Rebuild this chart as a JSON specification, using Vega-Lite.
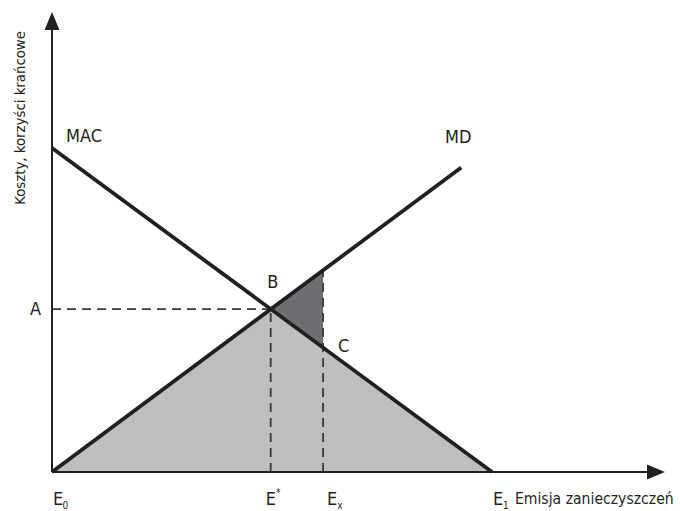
{
  "$schema": "https://vega.github.io/schema/vega-lite/v6.json",
  "autosize": "none",
  "width": 613,
  "height": 460,
  "padding": {"left": 52, "top": 12, "right": 15, "bottom": 39},
  "background": "white",
  "config": {"view": {"stroke": null}, "text": {"font": "DejaVu Sans Condensed, Liberation Sans Narrow, sans-serif", "color": "#231f20"}},
  "datasets": {
    "curves": [
      {"series": "MAC", "x": 0, "y": 100},
      {"series": "MAC", "x": 100, "y": 0},
      {"series": "MD", "x": 0, "y": 0},
      {"series": "MD", "x": 93, "y": 94}
    ],
    "lightArea": [{"x": 0, "y": 0}, {"x": 49.7, "y": 50.3}, {"x": 100, "y": 0}],
    "darkArea": [{"x": 49.7, "y": 50.3, "y2": 50.3}, {"x": 61.6, "y": 62.3, "y2": 38.4}],
    "guides": [
      {"x": 0, "y": 50.3, "x2": 49.7, "y2": 50.3},
      {"x": 49.7, "y": 0, "x2": 49.7, "y2": 50.3},
      {"x": 61.6, "y": 0, "x2": 61.6, "y2": 62.3}
    ],
    "axes": [
      {"x": 0, "y": 0, "x2": 0, "y2": 137},
      {"x": 0, "y": 0, "x2": 135.5, "y2": 0}
    ],
    "arrowUp": [{"x": 0, "y": 142}],
    "arrowRight": [{"x": 139.3, "y": 0}],
    "labels": [
      {"text": "A", "x": -5.0, "y": 48.5},
      {"text": "MAC", "x": 3.2, "y": 101.9},
      {"text": "MD", "x": 89.3, "y": 101.5},
      {"text": "B", "x": 48.9, "y": 56.8},
      {"text": "C", "x": 65.0, "y": 37.0},
      {"text": "E", "x": 0.2, "y": -10.2},
      {"text": "E", "x": 48.6, "y": -10.2},
      {"text": "E", "x": 62.5, "y": -10.2},
      {"text": "E", "x": 100.2, "y": -10.2}
    ],
    "longLabels": [
      {"text": "Emisja zanieczyszczeń", "x": 105.2, "y": -9.9}
    ],
    "subs": [
      {"text": "0", "x": 2.4, "y": -11.4},
      {"text": "*", "x": 50.9, "y": -7.4},
      {"text": "x", "x": 64.8, "y": -11.4},
      {"text": "1", "x": 102.5, "y": -11.4}
    ],
    "yTitle": [{"text": "Koszty, korzyści krańcowe", "x": -6.1, "y": 109.3}]
  },
  "encoding": {
    "x": {"field": "x", "type": "quantitative", "scale": {"domain": [0, 139.3], "nice": false, "zero": false}, "axis": null},
    "y": {"field": "y", "type": "quantitative", "scale": {"domain": [0, 142], "nice": false, "zero": false}, "axis": null}
  },
  "layer": [
    {
      "data": {"name": "lightArea"},
      "mark": {"type": "area", "color": "#bcbec0", "opacity": 1}
    },
    {
      "data": {"name": "darkArea"},
      "mark": {"type": "area", "color": "#6d6e71", "opacity": 1},
      "encoding": {"y2": {"field": "y2"}}
    },
    {
      "data": {"name": "guides"},
      "mark": {"type": "rule", "color": "#3a3a3a", "strokeWidth": 1.8, "strokeDash": [9, 6]},
      "encoding": {"x2": {"field": "x2"}, "y2": {"field": "y2"}}
    },
    {
      "data": {"name": "axes"},
      "mark": {"type": "rule", "color": "#231f20", "strokeWidth": 2},
      "encoding": {"x2": {"field": "x2"}, "y2": {"field": "y2"}}
    },
    {
      "data": {"name": "arrowUp"},
      "mark": {"type": "point", "shape": "M0,0L0.75,1.8L-0.75,1.8Z", "size": 400, "filled": true, "color": "#231f20", "opacity": 1, "strokeWidth": 0}
    },
    {
      "data": {"name": "arrowRight"},
      "mark": {"type": "point", "shape": "M0,0L-1.8,-0.75L-1.8,0.75Z", "size": 400, "filled": true, "color": "#231f20", "opacity": 1, "strokeWidth": 0}
    },
    {
      "data": {"name": "curves"},
      "mark": {"type": "line", "color": "#231f20", "strokeWidth": 3.8, "strokeCap": "butt"},
      "encoding": {"detail": {"field": "series"}}
    },
    {
      "data": {"name": "labels"},
      "mark": {"type": "text", "fontSize": 18, "align": "left", "baseline": "alphabetic"},
      "encoding": {"text": {"field": "text"}}
    },
    {
      "data": {"name": "longLabels"},
      "mark": {"type": "text", "fontSize": 15.6, "align": "left", "baseline": "alphabetic"},
      "encoding": {"text": {"field": "text"}}
    },
    {
      "data": {"name": "subs"},
      "mark": {"type": "text", "fontSize": 10, "align": "left", "baseline": "alphabetic"},
      "encoding": {"text": {"field": "text"}}
    },
    {
      "data": {"name": "yTitle"},
      "mark": {"type": "text", "fontSize": 14.8, "align": "center", "baseline": "alphabetic", "angle": 270},
      "encoding": {"text": {"field": "text"}}
    }
  ]
}
